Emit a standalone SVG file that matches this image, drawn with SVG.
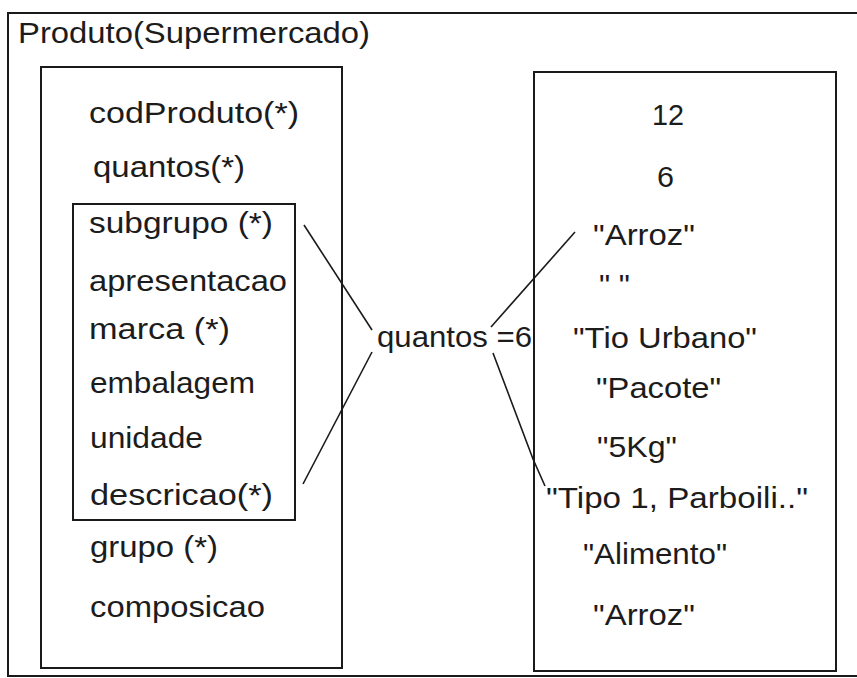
<svg xmlns="http://www.w3.org/2000/svg" width="857" height="678" viewBox="0 0 857 678">
  <style>
    .frame { fill: none; stroke: #1a1a1a; stroke-width: 2; }
    .conn { fill: none; stroke: #1a1a1a; stroke-width: 1.6; }
    text { font-family: "Liberation Sans", Arial, sans-serif; font-size: 29px; fill: #1c1c1c; }
  </style>
  <rect width="857" height="678" fill="#ffffff"/>

  <!-- outer relation frame -->
  <g id="relacao">
    <path class="frame" d="M 870 13 L 8 13 L 8 676 L 870 676"/>
    <text x="18" y="43" textLength="352" lengthAdjust="spacingAndGlyphs">Produto(Supermercado)</text>
  </g>

  <!-- attribute list -->
  <g id="atributos">
    <rect class="frame" x="41" y="67" width="301" height="601"/>
    <text x="89" y="123" textLength="210" lengthAdjust="spacingAndGlyphs">codProduto(*)</text>
    <text x="93" y="177" textLength="152" lengthAdjust="spacingAndGlyphs">quantos(*)</text>
    <text x="90" y="557" textLength="128" lengthAdjust="spacingAndGlyphs">grupo (*)</text>
    <text x="90" y="617" textLength="175" lengthAdjust="spacingAndGlyphs">composicao</text>
  </g>

  <!-- grouped attributes -->
  <g id="grupo-atributos">
    <rect class="frame" x="73" y="204" width="222" height="316"/>
    <text x="89" y="233" textLength="184" lengthAdjust="spacingAndGlyphs">subgrupo (*)</text>
    <text x="89" y="291" textLength="198" lengthAdjust="spacingAndGlyphs">apresentacao</text>
    <text x="89" y="339" textLength="141" lengthAdjust="spacingAndGlyphs">marca (*)</text>
    <text x="90" y="393" textLength="165" lengthAdjust="spacingAndGlyphs">embalagem</text>
    <text x="90" y="448" textLength="113" lengthAdjust="spacingAndGlyphs">unidade</text>
    <text x="90" y="505" textLength="183" lengthAdjust="spacingAndGlyphs">descricao(*)</text>
  </g>

  <!-- value list -->
  <g id="valores">
    <rect class="frame" x="534" y="72" width="302" height="599"/>
    <text x="652" y="125" textLength="32" lengthAdjust="spacingAndGlyphs">12</text>
    <text x="657" y="187" textLength="17" lengthAdjust="spacingAndGlyphs">6</text>
    <text x="593" y="245" textLength="102" lengthAdjust="spacingAndGlyphs">"Arroz"</text>
    <text x="599" y="295" textLength="31" lengthAdjust="spacingAndGlyphs">" "</text>
    <text x="573" y="348" textLength="184" lengthAdjust="spacingAndGlyphs">"Tio Urbano"</text>
    <text x="596" y="398" textLength="125" lengthAdjust="spacingAndGlyphs">"Pacote"</text>
    <text x="597" y="457" textLength="80" lengthAdjust="spacingAndGlyphs">"5Kg"</text>
    <text x="546" y="508" textLength="262" lengthAdjust="spacingAndGlyphs">"Tipo 1, Parboili.."</text>
    <text x="583" y="564" textLength="144" lengthAdjust="spacingAndGlyphs">"Alimento"</text>
    <text x="593" y="625" textLength="102" lengthAdjust="spacingAndGlyphs">"Arroz"</text>
  </g>

  <!-- key label in the middle -->
  <g id="chave">
    <text x="377" y="347" textLength="155" lengthAdjust="spacingAndGlyphs">quantos =6</text>
  </g>

  <!-- connectors -->
  <g id="conectores">
    <line class="conn" x1="304" y1="225" x2="372" y2="330"/>
    <line class="conn" x1="372" y1="352" x2="303" y2="484"/>
    <line class="conn" x1="491" y1="327" x2="575" y2="232"/>
    <polyline class="conn" points="493,353 533,459 545,486"/>
  </g>
</svg>
